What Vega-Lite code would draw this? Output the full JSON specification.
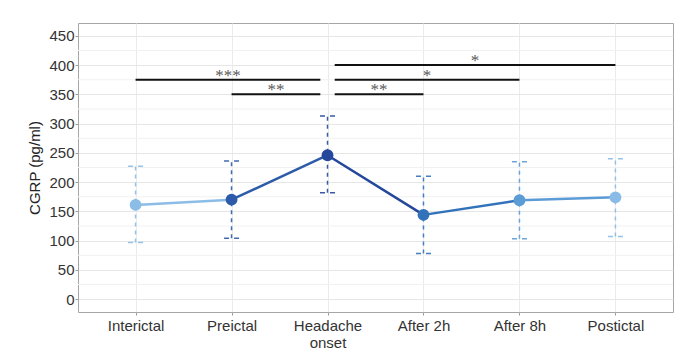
{
  "$schema": "https://vega.github.io/schema/vega-lite/v6.json",
  "width": 595,
  "height": 289,
  "autosize": {"type": "none"},
  "padding": {"left": 78, "top": 23, "right": 4, "bottom": 51},
  "background": "white",
  "config": {
    "view": {"stroke": "#a6a6a6", "strokeWidth": 1},
    "font": "Liberation Sans",
    "axisY": {"tickCount": 10, "labelOverlap": false, "labelFontSize": 15}
  },
  "datasets": {
    "points": [
      {"idx": 1, "phase": "Interictal", "mean": 161, "lo": 97, "hi": 227},
      {"idx": 2, "phase": "Preictal", "mean": 170, "lo": 104, "hi": 236},
      {"idx": 3, "phase": "Headache onset", "mean": 246, "lo": 182, "hi": 313},
      {"idx": 4, "phase": "After 2h", "mean": 144, "lo": 78, "hi": 210},
      {"idx": 5, "phase": "After 8h", "mean": 169, "lo": 103, "hi": 235},
      {"idx": 6, "phase": "Postictal", "mean": 174, "lo": 107, "hi": 240}
    ],
    "minor": [
      {"v": 25}, {"v": 75}, {"v": 125}, {"v": 175}, {"v": 225},
      {"v": 275}, {"v": 325}, {"v": 375}, {"v": 425}
    ],
    "sig": [
      {"x1": 1, "x2": 2.925, "y": 375, "label": "***"},
      {"x1": 2, "x2": 2.925, "y": 350, "label": "**"},
      {"x1": 3.075, "x2": 6, "y": 400, "label": "*"},
      {"x1": 3.075, "x2": 5, "y": 375, "label": "*"},
      {"x1": 3.075, "x2": 4, "y": 350, "label": "**"}
    ]
  },
  "layer": [
    {
      "data": {"name": "minor"},
      "mark": {"type": "rule", "color": "#f1f1f1", "strokeWidth": 1},
      "encoding": {
        "y": {"field": "v", "type": "quantitative"}
      }
    },
    {
      "data": {"name": "points"},
      "mark": {"type": "rule", "strokeDash": [4, 4], "strokeWidth": 1.5, "opacity": 0.9},
      "encoding": {
        "x": {
          "field": "idx", "type": "quantitative",
          "scale": {"domain": [0.4, 6.6], "nice": false, "zero": false},
          "axis": {
            "title": null,
            "values": [1, 2, 3, 4, 5, 6],
            "labelExpr": "['', 'Interictal', 'Preictal', ['Headache', 'onset'], 'After 2h', 'After 8h', 'Postictal'][datum.value]",
            "labelFontSize": 15,
            "labelColor": "#333333",
            "labelPadding": 3,
            "labelLineHeight": 17,
            "labelOverlap": false,
            "tickSize": 3,
            "tickColor": "#9a9a9a",
            "domain": false,
            "grid": true,
            "gridColor": "#ebebeb",
            "gridWidth": 1
          }
        },
        "y": {
          "field": "lo", "type": "quantitative",
          "scale": {"domain": [-22, 472], "nice": false, "zero": false},
          "axis": {
            "title": "CGRP (pg/ml)",
            "titleFontSize": 15,
            "titleFontWeight": "normal",
            "titleColor": "#222222",
            "titlePadding": 6,
            "values": [0, 50, 100, 150, 200, 250, 300, 350, 400, 450],
            "tickCount": 10,
            "labelFontSize": 15,
            "labelColor": "#333333",
            "labelPadding": 1,
            "labelOverlap": false,
            "tickSize": 3,
            "tickColor": "#9a9a9a",
            "domain": false,
            "grid": true,
            "gridColor": "#e6e6e6",
            "gridWidth": 1
          }
        },
        "y2": {"field": "hi"},
        "color": {
          "field": "phase", "type": "nominal",
          "scale": {
            "domain": ["Interictal", "Preictal", "Headache onset", "After 2h", "After 8h", "Postictal"],
            "range": ["#8bbde6", "#2d5ba9", "#25489b", "#3272bb", "#5c9cd6", "#89bbe6"]
          },
          "legend": null
        }
      }
    },
    {
      "data": {"name": "points"},
      "mark": {"type": "point", "shape": "stroke", "size": 225, "strokeDash": [5, 5], "strokeWidth": 1.5, "filled": false, "opacity": 0.9},
      "encoding": {
        "x": {"field": "idx", "type": "quantitative"},
        "y": {"field": "lo", "type": "quantitative"},
        "color": {"field": "phase", "type": "nominal"}
      }
    },
    {
      "data": {"name": "points"},
      "mark": {"type": "point", "shape": "stroke", "size": 225, "strokeDash": [5, 5], "strokeWidth": 1.5, "filled": false, "opacity": 0.9},
      "encoding": {
        "x": {"field": "idx", "type": "quantitative"},
        "y": {"field": "hi", "type": "quantitative"},
        "color": {"field": "phase", "type": "nominal"}
      }
    },
    {
      "data": {"name": "points"},
      "transform": [
        {"window": [{"op": "lead", "field": "idx", "as": "idx2"}, {"op": "lead", "field": "mean", "as": "mean2"}], "sort": [{"field": "idx"}]},
        {"filter": "datum.idx2 != null"}
      ],
      "mark": {"type": "rule", "strokeWidth": 2.5, "strokeCap": "round"},
      "encoding": {
        "x": {"field": "idx", "type": "quantitative"},
        "x2": {"field": "idx2"},
        "y": {"field": "mean", "type": "quantitative"},
        "y2": {"field": "mean2"},
        "color": {"field": "phase", "type": "nominal"}
      }
    },
    {
      "data": {"name": "points"},
      "mark": {"type": "point", "shape": "circle", "filled": true, "size": 140, "opacity": 1},
      "encoding": {
        "x": {"field": "idx", "type": "quantitative"},
        "y": {"field": "mean", "type": "quantitative"},
        "color": {"field": "phase", "type": "nominal"}
      }
    },
    {
      "data": {"name": "sig"},
      "mark": {"type": "rule", "color": "#111111", "strokeWidth": 2},
      "encoding": {
        "x": {"field": "x1", "type": "quantitative"},
        "x2": {"field": "x2"},
        "y": {"field": "y", "type": "quantitative"}
      }
    },
    {
      "data": {"name": "sig"},
      "transform": [{"calculate": "(datum.x1 + datum.x2) / 2", "as": "xm"}],
      "mark": {"type": "text", "font": "Liberation Serif", "fontSize": 17, "color": "#5a5a5a", "baseline": "middle", "dy": -4},
      "encoding": {
        "x": {"field": "xm", "type": "quantitative"},
        "y": {"field": "y", "type": "quantitative"},
        "text": {"field": "label"}
      }
    }
  ]
}
